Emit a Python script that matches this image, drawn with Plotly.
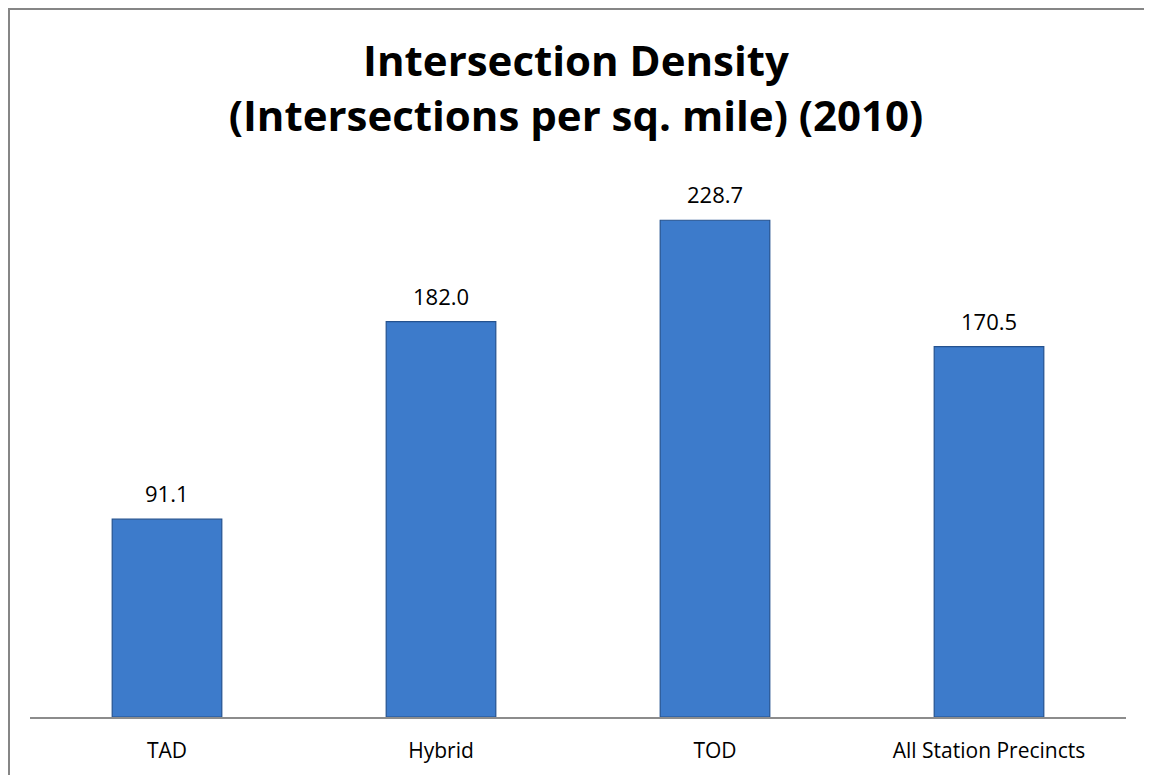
import plotly.graph_objects as go

categories = ["TAD", "Hybrid", "TOD", "All Station Precincts"]
density = [91.1, 182.0, 228.7, 170.5]
value_labels = [f"{v:.1f}" for v in density]

FONT = "Open Sans, Liberation Sans, sans-serif"

# page body adds an 8px margin; figure is 1136 x 767, plot area 1096 x 543
fig = go.Figure()
fig.add_trace(go.Bar(
    x=categories,
    y=density,
    width=0.4,
    marker={"color": "#3d7bcb", "line": {"color": "#24528f", "width": 1.2}},
    hovertemplate="%{x}: %{y:.1f}<extra></extra>",
))

# value labels sit a little above each bar, like the original data labels
for cat, val, label in zip(categories, density, value_labels):
    fig.add_annotation(
        x=cat, y=val, text=label,
        showarrow=False, yanchor="bottom", yshift=9,
        font={"family": FONT, "size": 22, "color": "#000000"},
    )

fig.update_layout(
    paper_bgcolor="white",
    plot_bgcolor="white",
    showlegend=False,
    font={"family": FONT, "color": "#000000"},
    title={
        "text": "<b>Intersection Density</b><br><b>(Intersections per sq. mile) (2010)</b>",
        "x": 0.5,
        "xanchor": "center",
        "yref": "container",
        "y": 1 - 68 / 767,
        "yanchor": "middle",
        "font": {"size": 42, "family": FONT},
    },
    xaxis={
        "showline": True,
        "linecolor": "#8c8c8c",
        "linewidth": 2,
        "ticks": "",
        "tickfont": {"size": 21},
        "ticklabelstandoff": 14,
        "showgrid": False,
    },
    yaxis={
        "range": [0, 250],
        "visible": False,
        "showgrid": False,
    },
    margin={"l": 22, "r": 18, "t": 166, "b": 58},
    shapes=[
        {"type": "line", "xref": "paper", "yref": "paper", "x0": -22 / 1096, "x1": 1118 / 1096,
         "y0": 1 + 165 / 543, "y1": 1 + 165 / 543, "line": {"color": "#868686", "width": 2}},
        {"type": "line", "xref": "paper", "yref": "paper", "x0": -21 / 1096, "x1": -21 / 1096,
         "y0": -58 / 543, "y1": 1 + 166 / 543, "line": {"color": "#868686", "width": 2}},
    ],
)

fig.write_html("out.html")
